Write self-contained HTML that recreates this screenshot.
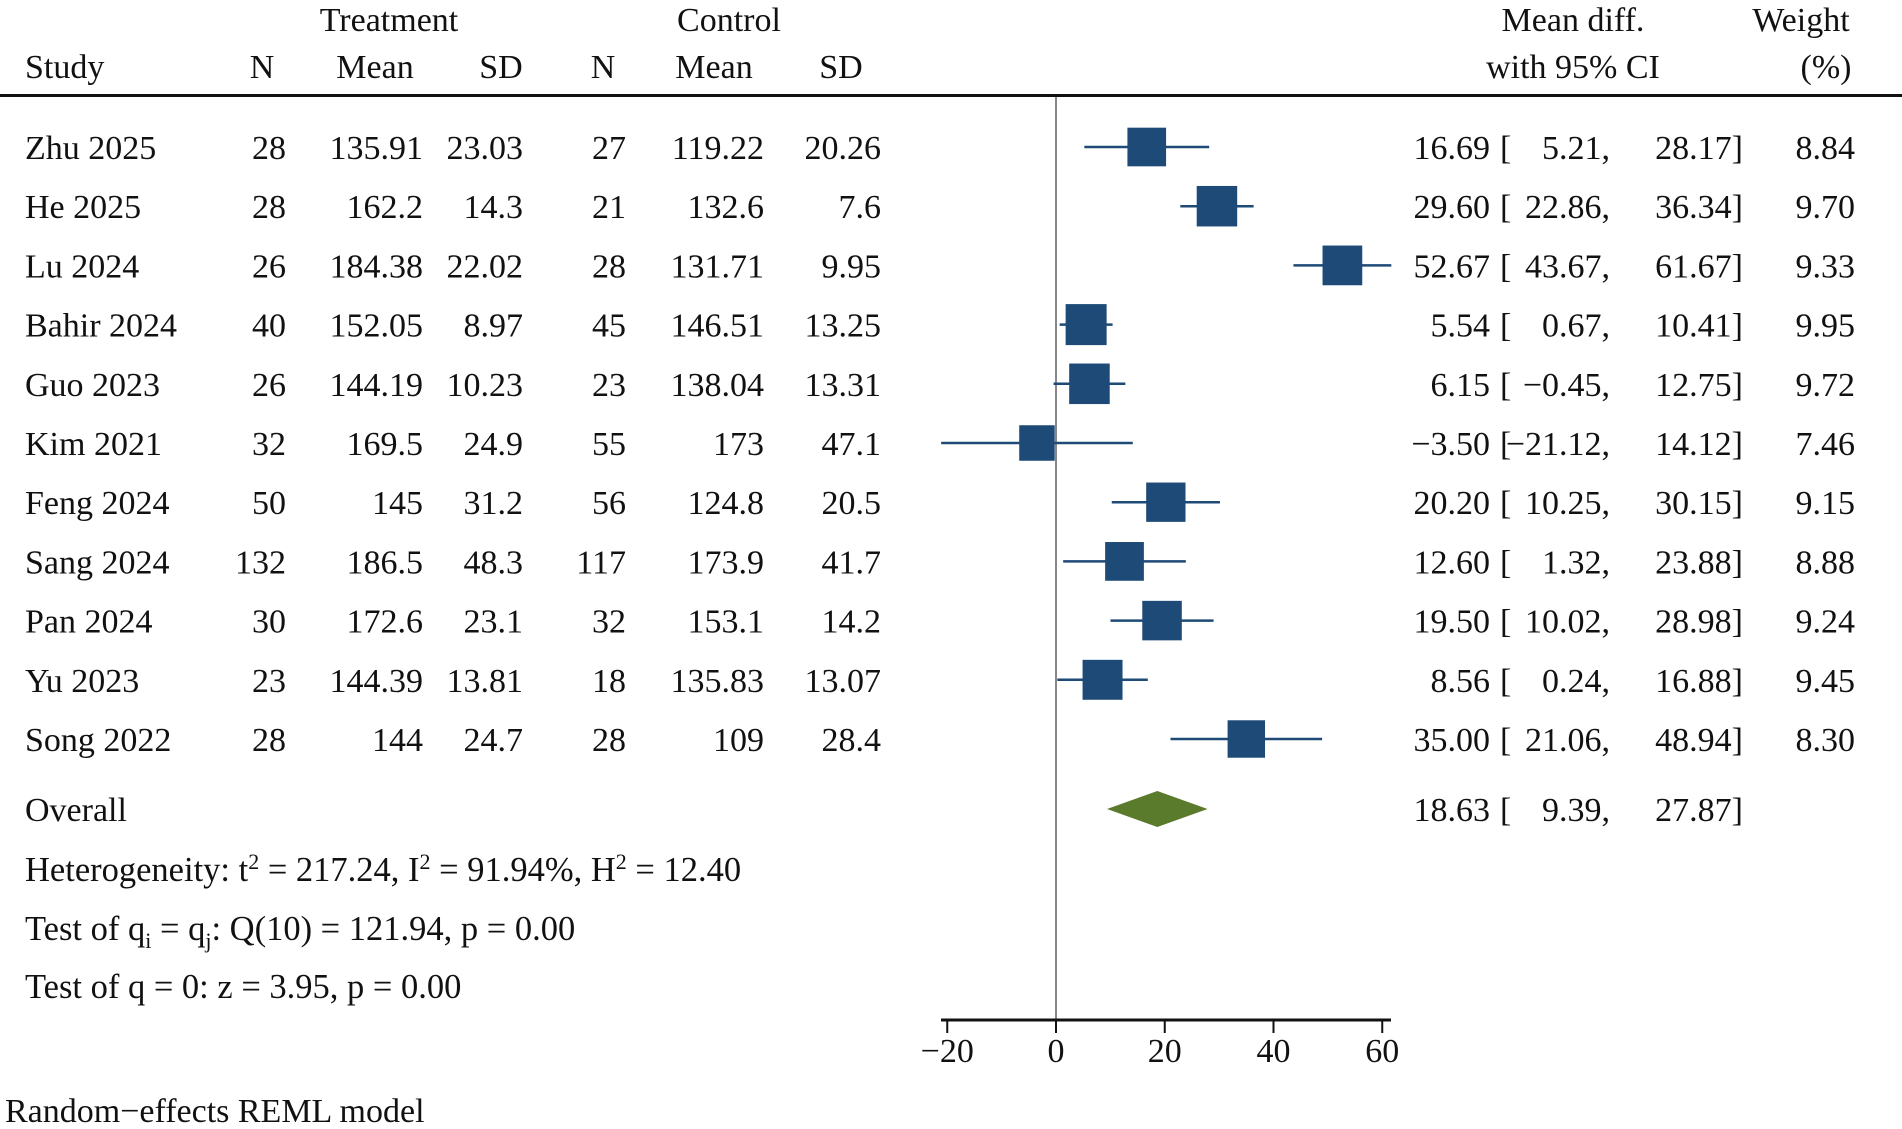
<!DOCTYPE html>
<html><head><meta charset="utf-8"><style>
html,body{margin:0;padding:0;background:#fff;}
svg{display:block;font-family:"Liberation Serif",serif;}
text{font-size:34px;fill:#111;}
.st{font-size:34.5px;letter-spacing:0px;}
</style></head><body>
<svg id="chart" width="1902" height="1129" viewBox="0 0 1902 1129" xmlns="http://www.w3.org/2000/svg">
<g>
<text x="389" y="31" text-anchor="middle">Treatment</text>
<text x="729" y="31" text-anchor="middle">Control</text>
<text x="25" y="78">Study</text>
<text x="262" y="78" text-anchor="middle">N</text>
<text x="375" y="78" text-anchor="middle">Mean</text>
<text x="501" y="78" text-anchor="middle">SD</text>
<text x="603" y="78" text-anchor="middle">N</text>
<text x="714" y="78" text-anchor="middle">Mean</text>
<text x="841" y="78" text-anchor="middle">SD</text>
<text x="1573" y="31" text-anchor="middle">Mean diff.</text>
<text x="1573" y="78" text-anchor="middle">with 95% CI</text>
<text x="1801" y="31" text-anchor="middle">Weight</text>
<text x="1826" y="78" text-anchor="middle">(%)</text>
</g>
<rect x="0" y="94" width="1902" height="3" fill="#111"/>
<g id="rows"></g>
<g id="marks"></g>
<g>
<text x="25" y="821">Overall</text>
<text class="st" x="25" y="881">Heterogeneity: t<tspan dy="-12" font-size="22">2</tspan><tspan dy="12"> = 217.24, I</tspan><tspan dy="-12" font-size="22">2</tspan><tspan dy="12"> = 91.94%, H</tspan><tspan dy="-12" font-size="22">2</tspan><tspan dy="12"> = 12.40</tspan></text>
<text class="st" x="25" y="940">Test of q<tspan dy="8" font-size="22">i</tspan><tspan dy="-8"> = q</tspan><tspan dy="8" font-size="22">j</tspan><tspan dy="-8">: Q(10) = 121.94, p = 0.00</tspan></text>
<text class="st" x="25" y="998">Test of q = 0: z = 3.95, p = 0.00</text>
<text x="5" y="1122">Random−effects REML model</text>
</g>
</svg>
<script>
const studies=["Zhu 2025","He 2025","Lu 2024","Bahir 2024","Guo 2023","Kim 2021","Feng 2024","Sang 2024","Pan 2024","Yu 2023","Song 2022"];
const tN=["28","28","26","40","26","32","50","132","30","23","28"];
const tMean=["135.91","162.2","184.38","152.05","144.19","169.5","145","186.5","172.6","144.39","144"];
const tSD=["23.03","14.3","22.02","8.97","10.23","24.9","31.2","48.3","23.1","13.81","24.7"];
const cN=["27","21","28","45","23","55","56","117","32","18","28"];
const cMean=["119.22","132.6","131.71","146.51","138.04","173","124.8","173.9","153.1","135.83","109"];
const cSD=["20.26","7.6","9.95","13.25","13.31","47.1","20.5","41.7","14.2","13.07","28.4"];
const est=[16.69,29.60,52.67,5.54,6.15,-3.50,20.20,12.60,19.50,8.56,35.00];
const lo=[5.21,22.86,43.67,0.67,-0.45,-21.12,10.25,1.32,10.02,0.24,21.06];
const hi=[28.17,36.34,61.67,10.41,12.75,14.12,30.15,23.88,28.98,16.88,48.94];
const weight=[8.84,9.70,9.33,9.95,9.72,7.46,9.15,8.88,9.24,9.45,8.30];
const overall=[18.63,9.39,27.87];
const ticks=[-20,0,20,40,60];

const NS="http://www.w3.org/2000/svg";
const svg=document.getElementById('chart');
const rowsG=document.getElementById('rows');
const marksG=document.getElementById('marks');
const x=v=>1056+v*5.4375;
const rowY=i=>147+i*59.2;
const fmt=v=>(v<0?"−":"")+Math.abs(v).toFixed(2);
function mk(tag,attrs,parent){const e=document.createElementNS(NS,tag);for(const k in attrs)e.setAttribute(k,attrs[k]);parent.appendChild(e);return e;}
function txt(s,xx,yy,anchor,parent){const t=mk('text',{x:xx,y:yy,'text-anchor':anchor},parent);t.textContent=s;return t;}

const zl=mk('line',{x1:x(0),x2:x(0),y1:97,y2:1020,stroke:'#888','stroke-width':2},marksG);



studies.forEach((s,i)=>{
  const y=rowY(i), b=y+12;
  const g=mk('g',{},rowsG);
  
  
  txt(s,25,b,'start',g);
  txt(tN[i],286,b,'end',g);
  txt(tMean[i],423,b,'end',g);
  txt(tSD[i],523,b,'end',g);
  txt(cN[i],626,b,'end',g);
  txt(cMean[i],764,b,'end',g);
  txt(cSD[i],881,b,'end',g);
  txt(fmt(est[i]),1490,b,'end',g);
  txt('[',1500,b,'start',g);
  txt(fmt(lo[i])+',',1610,b,'end',g);
  txt(fmt(hi[i])+']',1743,b,'end',g);
  txt(weight[i].toFixed(2),1855,b,'end',g);
  const ci=mk('line',{x1:x(lo[i]),x2:x(hi[i]),y1:y,y2:y,stroke:'#1d4a76','stroke-width':2.5},marksG);
  
  
  const sz=13*Math.sqrt(weight[i]);
  const sq=mk('rect',{x:x(est[i])-sz/2,y:y-sz/2,width:sz,height:sz,fill:'#1d4a76'},marksG);
  
  
});

const oy=809;
const og=mk('g',{},rowsG);


txt(fmt(overall[0]),1490,oy+12,'end',og);
txt('[',1500,oy+12,'start',og);
txt(fmt(overall[1])+',',1610,oy+12,'end',og);
txt(fmt(overall[2])+']',1743,oy+12,'end',og);
const dm=mk('polygon',{points:`${x(overall[1])},${oy} ${x(overall[0])},${oy-18} ${x(overall[2])},${oy} ${x(overall[0])},${oy+18}`,fill:'#5a7a2c'},marksG);



const ax=mk('g',{},svg);


mk('line',{x1:941,x2:1391,y1:1020,y2:1020,stroke:'#111','stroke-width':3},ax);
ticks.forEach(t=>{
  const tl=mk('line',{x1:x(t),x2:x(t),y1:1020,y2:1033,stroke:'#111','stroke-width':2},ax);
  
  
  const lb=txt(t<0?'−'+Math.abs(t):String(t),x(t),1062,'middle',ax);
  
  
});
</script>
</body></html>
